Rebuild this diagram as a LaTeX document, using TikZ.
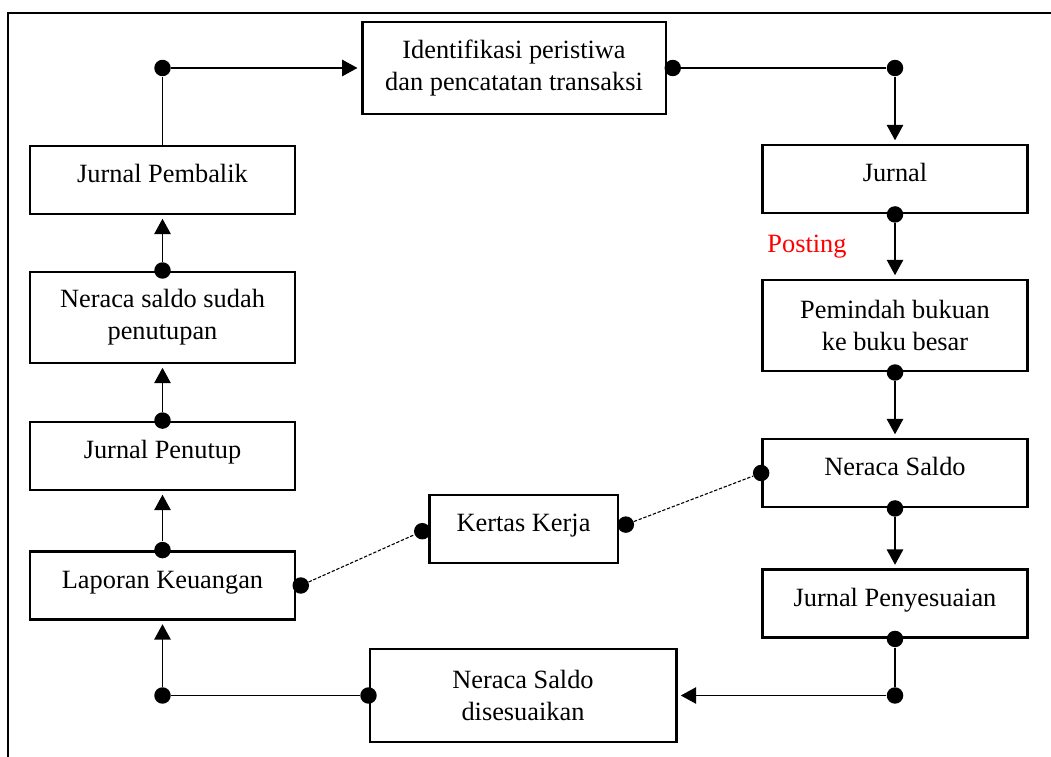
\documentclass[tikz,border=0pt]{standalone}
\usepackage{fontspec}
\setmainfont{Liberation Serif}
\usepackage{tikz}
\usetikzlibrary{arrows.meta,positioning,calc}
\definecolor{PostRed}{HTML}{FF0000}

\begin{document}
\begin{tikzpicture}[
    basebox/.style={
      draw=black,
      line width=1.25pt,
      minimum width=4.24cm,
      font=\fontsize{12}{14.5}\selectfont,
      align=center,
      inner sep=2pt
    },
    box/.style={
      basebox,
      minimum height=1.09cm,
      text height=8pt,
      text depth=5.5pt
    },
    tallbox/.style={
      basebox,
      minimum height=1.46cm
    },
    dot/.style={
      circle,
      fill=black,
      inner sep=0pt,
      minimum size=7.5pt
    },
    arr/.style={
      -{Triangle[length=7pt,width=7.5pt]},
      line width=0.6pt,
      shorten >=1.5pt
    },
    link/.style={
      line width=0.6pt
    },
    dotline/.style={
      dash pattern=on 1.5pt off 0.8pt,
      line width=0.5pt
    },
    frameline/.style={
      line width=1.3pt
    },
    note/.style={
      font=\fontsize{12}{14.5}\selectfont,
      text=PostRed
    }
  ]

  \useasboundingbox (0,0) rectangle (16.816,12.096);
  \draw[frameline] (17.2,11.888) -| (0.128,-0.4);

  % Main cycle
  \node[basebox, minimum width=4.86cm, minimum height=1.47cm] (ident) at (8.224,11.008)
    {Identifikasi peristiwa\\dan pencatatan transaksi};
  \node[box] (jurnal) at (14.32,9.232) {Jurnal};
  \node[tallbox] (pemindah) at (14.32,6.888) {Pemindah bukuan\\ke buku besar};
  \node[box] (neraca) at (14.32,4.528) {Neraca Saldo};
  \node[box] (penyesuaian) at (14.32,2.44) {Jurnal Penyesuaian};
  \node[basebox, minimum width=4.9cm, minimum height=1.49cm] (disesuaikan) at (8.368,0.968)
    {Neraca Saldo\\disesuaikan};
  \node[box] (laporan) at (2.6,2.728) {Laporan Keuangan};
  \node[box] (penutup) at (2.6,4.8) {Jurnal Penutup};
  \node[tallbox] (sudah) at (2.6,7.016) {Neraca saldo sudah\\penutupan};
  \node[box] (pembalik) at (2.6,9.216) {Jurnal Pembalik};

  % Side box
  \node[box, minimum width=3.02cm] (kertas) at (8.376,3.632) {Kertas Kerja};

  % Label
  \node[note] (posting) at (12.912,8.144) {Posting};

  % Dots
  \node[dot] (dIe) at ([xshift=2.5pt]ident.east) {};
  \node[dot] (cTR) at (jurnal.north |- ident.east) {};
  \node[dot] (dJs) at (jurnal.south) {};
  \node[dot] (dPs) at (pemindah.south) {};
  \node[dot] (dNs) at (neraca.south) {};
  \node[dot] (dYs) at (penyesuaian.south) {};
  \node[dot] (cBR) at (penyesuaian.south |- disesuaikan.east) {};
  \node[dot] (dDw) at (disesuaikan.west) {};
  \node[dot] (cBL) at (laporan.south |- disesuaikan.west) {};
  \node[dot] (dLn) at (laporan.north) {};
  \node[dot] (dTn) at (penutup.north) {};
  \node[dot] (dSn) at (sudah.north) {};
  \node[dot] (cTL) at (pembalik.north |- ident.west) {};
  \node[dot] (dLe) at ([xshift=2pt]laporan.east) {};
  \node[dot] (dKw) at ([xshift=-2.5pt,yshift=-1pt]kertas.west) {};
  \node[dot] (dKe) at ([xshift=3pt,yshift=2pt]kertas.east) {};
  \node[dot] (dNw) at (neraca.west) {};

  % Flow
  \draw[link] (dIe) -- (cTR);
  \draw[arr] (cTR) -- (jurnal);
  \draw[arr] (dJs) -- (pemindah);
  \draw[arr] (dPs) -- (neraca);
  \draw[arr] (dNs) -- (penyesuaian);
  \draw[link] (dYs) -- (cBR);
  \draw[arr] (cBR) -- (disesuaikan);
  \draw[link] (dDw) -- (cBL);
  \draw[arr] (cBL) -- (laporan);
  \draw[arr] (dLn) -- (penutup);
  \draw[arr] (dTn) -- (sudah);
  \draw[arr] (dSn) -- (pembalik);
  \draw[link] (pembalik) -- (cTL);
  \draw[arr] (cTL) -- (ident);

  % Worksheet links
  \draw[dotline] (dLe) -- (dKw);
  \draw[dotline] (dKe) -- (dNw);

\end{tikzpicture}
\end{document}
